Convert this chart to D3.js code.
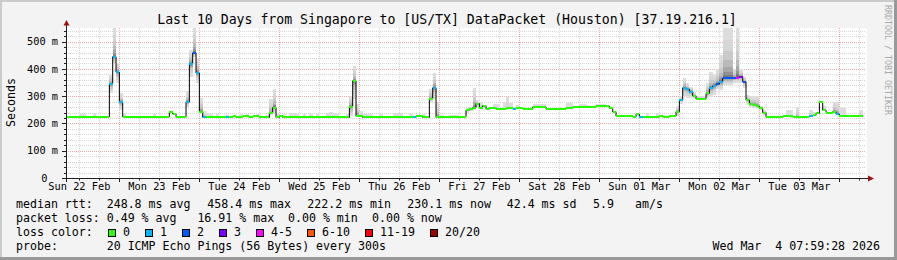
<!DOCTYPE html>
<html>
<head>
<meta charset="utf-8">
<script src="https://cdn.jsdelivr.net/npm/d3@7"></script>
<style>
  body { margin: 0; background: #f3f3f3; }
  svg { display: block; }
  text { font-family: "DejaVu Sans Mono", monospace; white-space: pre; }
</style>
</head>
<body>
<svg id="chart" width="897" height="260"></svg>
<script>
const title = "Last 10 Days from Singapore to [US/TX] DataPacket (Houston) [37.19.216.1]";
const endTime = new Date(2026, 2, 4, 7, 59, 28);
const firstBinStart = new Date(2026, 1, 22, 8, 0, 0); // hourly bins

// median rtt per hour (ms), one row per day
const median = [
  225,225,225,225,225,225,225,225,225,225,225,225,225,344,445,388,277,225,225,225,225,225,225,225,
  225,225,225,225,225,225,225,241,235,225,225,225,278,417,459,385,243,223,222,222,222,222,222,222,
  222,222,226,222,222,226,226,222,226,226,222,222,222,237,258,222,226,222,222,222,222,222,222,222,
  222,222,222,222,222,222,222,222,222,222,222,222,222,261,356,227,227,222,222,222,222,222,222,222,
  222,222,222,222,222,222,222,222,222,226,226,222,222,290,331,222,222,222,222,222,222,222,225,225,
  249,252,258,273,258,265,253,258,258,253,253,253,256,258,253,258,258,253,253,253,260,260,260,260,
  254,254,254,254,254,254,258,258,260,260,260,260,260,260,260,263,263,263,263,258,243,227,227,227,
  227,227,224,233,224,224,224,224,224,224,227,224,224,227,227,243,286,331,326,317,301,291,291,291,
  310,329,338,344,353,366,366,366,366,368,371,353,286,270,268,264,255,240,225,225,222,222,222,227,
  227,227,225,222,222,222,225,227,230,237,277,249,240,238,243,235,227,227,227,227,227,227,227
];

// [hour bin, lost pings out of 20]
const loss = [
  [13,1],[14,1],[15,1],[16,1],[36,1],[37,1],[38,2],[39,1],[41,1],[48,1],[104,1],[110,1],
  [134,1],[172,1],[184,1],[185,1],[186,1],[187,1],[193,1],[194,1],[195,2],[196,1],
  [197,2],[198,2],[199,2],[200,2],[201,4],[202,3],[203,2],[223,1],[231,1]
];

// smoke: [hour bin, lowest ping ms, highest ping ms, darkness of core 0..1]
const smoke = [
  [4,224,236,0],[5,224,240,0],[8,224,240,0],[13,311,378,1],[14,420,560,1],[15,350,422,1],
  [16,250,312,1],[17,222,236,0.2],[26,224,235,0],[36,262,318,1],[37,372,470,1],[38,445,560,1],
  [39,350,435,1],[40,240,295,1],[41,220,245,0.5],[42,222,238,0],[43,222,236,0],[45,222,236,0],
  [48,222,232,0],[52,222,236,0],[54,222,236,0],[57,222,236,0],[60,224,232,0.3],[61,230,290,0.8],
  [62,240,326,1],[63,222,240,0.3],[65,222,236,0],[67,222,240,0],[68,222,240,0],[69,222,236,0],
  [71,222,236,0],[73,222,236,0],[75,222,236,0],[78,222,240,0],[79,222,243,0],[80,222,240,0],
  [81,222,236,0],[84,222,236,0],[85,226,300,1],[86,290,411,1],[87,224,272,1],[88,222,245,0.3],
  [89,222,236,0],[90,222,236,0],[91,222,236,0],[94,222,236,0],[98,222,240,0],[99,222,240,0],
  [100,222,238,0],[103,222,236,0],[107,222,236,0],[109,280,325,1],[110,290,386,1],[111,222,280,0.8],
  [112,222,232,0],[115,222,232,0],[116,222,232,0],[117,222,232,0],[120,240,255,0.6],[121,245,262,0.6],
  [122,250,330,1],[123,262,285,0.5],[124,255,280,0.3],[128,256,270,0],[129,252,270,0],[131,252,280,0],
  [132,254,298,0.2],[133,256,275,0],[135,256,268,0],[140,258,272,0],[141,258,272,0],[142,258,270,0],
  [143,258,272,0],[150,256,275,0],[151,256,275,0],[154,258,270,0],[155,258,270,0],[156,258,268,0],
  [159,260,270,0],[160,260,270,0],[161,260,272,0],[171,226,240,0],[174,224,238,0],[177,224,238,0],
  [183,228,265,0.8],[184,270,300,0.4],[185,300,366,1],[186,292,350,1],[187,295,335,1],[188,290,315,0.8],
  [189,285,300,0.5],[190,285,300,0.5],[191,285,300,0.5],[192,292,350,1],[193,298,390,1],[194,305,382,1],
  [195,325,400,1],[196,322,451,1],[197,340,560,1],[198,340,560,1],[199,340,560,1],[200,350,400,1],
  [201,350,560,1],[202,350,400,1],[203,330,370,1],[204,270,305,1],[205,260,300,1],[206,258,300,1],
  [207,255,300,1],[208,248,265,0.5],[209,232,250,0.5],[216,222,250,0],[217,222,250,0],[219,222,260,0.6],
  [223,224,250,0.3],[224,226,242,0],[227,245,265,0.3],[230,235,280,0.8],[231,232,280,0.8],
  [232,225,260,0],[233,225,255,0],[238,225,250,0.2]
];

const yTickValues = [0, 100, 200, 300, 400, 500];
const yTickLabels = ["0", "100 m", "200 m", "300 m", "400 m", "500 m"];
const dayLabels = ["Sun 22 Feb", "Mon 23 Feb", "Tue 24 Feb", "Wed 25 Feb", "Thu 26 Feb",
                   "Fri 27 Feb", "Sat 28 Feb", "Sun 01 Mar", "Mon 02 Mar", "Tue 03 Mar"];

const lossLevels = ["0", "1", "2", "3", "4-5", "6-10", "11-19", "20/20"];
const lossColors = ["#26ff00", "#00b8ff", "#0059ff", "#7e00ff", "#ff00ff", "#ff5500", "#ff0000", "#a10000"];

const rttStats = ["248.8 ms avg", "458.4 ms max", "222.2 ms min", "230.1 ms now", "42.4 ms sd", "5.9", "am/s"];
const lossStats = ["0.49 % avg", "16.91 % max", "0.00 % min", "0.00 % now"];
const probeText = "20 ICMP Echo Pings (56 Bytes) every 300s";
const stampText = "Wed Mar  4 07:59:28 2026";

// ---------------------------------------------------------------
const W = 897, H = 260;
const plot = { left: 66, right: 866, top: 28, bottom: 178 };
const svg = d3.select("#chart");

svg.append("rect").attr("width", W).attr("height", H).attr("fill", "#f3f3f3");
svg.append("rect").attr("width", W).attr("height", 2).attr("fill", "#cbcbcb");
svg.append("rect").attr("width", 2).attr("height", H).attr("fill", "#cbcbcb");
svg.append("rect").attr("y", H - 3).attr("width", W).attr("height", 3).attr("fill", "#999");
svg.append("rect").attr("x", W - 3).attr("width", 3).attr("height", H).attr("fill", "#999");

svg.append("rect")
    .attr("x", plot.left).attr("y", plot.top)
    .attr("width", plot.right - plot.left + 1).attr("height", plot.bottom - plot.top)
    .attr("fill", "#fff");

const x = d3.scaleTime()
    .domain([d3.timeDay.offset(endTime, -10), endTime])
    .range([plot.left, plot.right]);

const y = d3.scaleLinear()
    .domain([0, 550])
    .range([plot.bottom, plot.top])
    .clamp(true);

const crisp = v => Math.round(v) + 0.5;

// grid
const grid = svg.append("g").attr("stroke-dasharray", "1,1").attr("stroke-width", 1);
const sixHours = d3.timeHour.every(6).range(x.domain()[0], x.domain()[1]);
const isMidnight = d => d.getHours() === 0;

grid.selectAll(".vmin")
    .data(sixHours.filter(d => !isMidnight(d)))
    .join("line")
    .attr("x1", d => crisp(x(d))).attr("x2", d => crisp(x(d)))
    .attr("y1", plot.top).attr("y2", plot.bottom)
    .attr("stroke", "#d6d6d6");

const minorY = d3.range(20, 551, 20).filter(v => v % 100 !== 0);
grid.selectAll(".hmin")
    .data(minorY)
    .join("line")
    .attr("x1", plot.left).attr("x2", plot.right)
    .attr("y1", d => crisp(y(d))).attr("y2", d => crisp(y(d)))
    .attr("stroke", "#d6d6d6");

grid.selectAll(".vmaj")
    .data(sixHours.filter(isMidnight))
    .join("line")
    .attr("x1", d => crisp(x(d))).attr("x2", d => crisp(x(d)))
    .attr("y1", plot.top).attr("y2", plot.bottom)
    .attr("stroke", "#f2a8a8");

grid.selectAll(".hmaj")
    .data(yTickValues.filter(v => v > 0))
    .join("line")
    .attr("x1", plot.left).attr("x2", plot.right)
    .attr("y1", d => crisp(y(d))).attr("y2", d => crisp(y(d)))
    .attr("stroke", "#f2a8a8");

// bins
const binStart = i => d3.timeHour.offset(firstBinStart, i);
const binEnd = i => d3.timeHour.offset(firstBinStart, i + 1);

// smoke: nested bands, wide light outliers, darker core hugging the median
const smokeG = svg.append("g").attr("shape-rendering", "crispEdges");
smoke.forEach(([bin, lo, hi, shade]) => {
    const med = median[bin];
    for (let k = 0; k < 10; k++) {
        const f = Math.pow(1 - k / 10, 3);
        const top = med + (hi - med) * f;
        const bot = med - (med - lo) * f;
        const g = Math.round(221 - 180 * shade * Math.pow(k / 9, 1.5));
        smokeG.append("rect")
            .attr("x", x(binStart(bin)))
            .attr("width", x(binEnd(bin)) - x(binStart(bin)))
            .attr("y", y(top))
            .attr("height", Math.max(0, y(bot) - y(top)))
            .attr("fill", d3.rgb(g, g, g));
    }
});

// median step line
const pts = median.map((m, i) => [x(binStart(i)), y(m)]);
pts.push([x(binEnd(median.length - 1)), y(median[median.length - 1])]);
svg.append("path")
    .attr("d", d3.line().curve(d3.curveStepAfter)(pts))
    .attr("fill", "none")
    .attr("stroke", "#000")
    .attr("stroke-width", 1);

// median markers coloured by loss
const lossMap = new Map(loss);
const lossIndex = n => n <= 3 ? n : n <= 5 ? 4 : n <= 10 ? 5 : n <= 19 ? 6 : 7;
svg.append("g").attr("shape-rendering", "crispEdges")
    .selectAll("rect")
    .data(median)
    .join("rect")
    .attr("x", (d, i) => x(binStart(i)))
    .attr("width", (d, i) => x(binEnd(i)) - x(binStart(i)))
    .attr("y", d => y(d) - 1)
    .attr("height", 2)
    .attr("fill", (d, i) => lossColors[lossIndex(lossMap.get(i) || 0)]);

// axes
const axisG = svg.append("g").attr("stroke", "#202020").attr("stroke-width", 1);
axisG.append("line").attr("x1", 62).attr("x2", 869).attr("y1", 178.5).attr("y2", 178.5);
axisG.append("line").attr("x1", 66.5).attr("x2", 66.5).attr("y1", 182).attr("y2", 24);

axisG.selectAll(".ytick")
    .data(d3.range(0, 551, 20))
    .join("line")
    .attr("x1", d => d % 100 === 0 ? 62 : 64).attr("x2", 66.5)
    .attr("y1", d => crisp(y(d))).attr("y2", d => crisp(y(d)));

axisG.selectAll(".xtick")
    .data(sixHours)
    .join("line")
    .attr("x1", d => crisp(x(d))).attr("x2", d => crisp(x(d)))
    .attr("y1", 178.5).attr("y2", d => isMidnight(d) ? 182 : 180.5);

svg.append("path").attr("d", "M868,175.5L874,178.5L868,181.5Z").attr("fill", "#a01010");
svg.append("path").attr("d", "M63.5,25.5L66.5,20L69.5,25.5Z").attr("fill", "#a01010");

// tick labels
svg.append("g")
    .selectAll("text")
    .data(yTickValues)
    .join("text")
    .attr("x", (d, i) => yTickLabels[i].includes(" ") ? 58 : 47.5)
    .attr("y", d => y(d) + 3.7)
    .attr("text-anchor", "end")
    .attr("font-size", "10.3px")
    .attr("fill", "#000")
    .text((d, i) => yTickLabels[i]);

const firstMidnight = d3.timeDay.floor(x.domain()[0]);
svg.append("g")
    .selectAll("text")
    .data(dayLabels)
    .join("text")
    .attr("x", (d, i) => x(d3.timeHour.offset(firstMidnight, 12 + 24 * i)))
    .attr("y", 190)
    .attr("text-anchor", "middle")
    .attr("font-size", "10.3px")
    .attr("fill", "#000")
    .text(d => d);

// title and side texts
svg.append("text")
    .attr("x", 447).attr("y", 24)
    .attr("text-anchor", "middle")
    .attr("font-size", "13.2px")
    .text(title);

svg.append("text")
    .attr("transform", "translate(15,102.5) rotate(-90)")
    .attr("text-anchor", "middle")
    .attr("font-size", "11.6px")
    .text("Seconds");

svg.append("text")
    .attr("transform", "translate(884.5,5) rotate(90)")
    .attr("font-size", "8.3px")
    .attr("fill", "#a8a8a8")
    .text("RRDTOOL / TOBI OETIKER");

// legend
const legend = svg.append("g").attr("font-size", "11.6px").attr("fill", "#000");
const rowY = [208, 222, 236, 250];
const colX = 106.7;

legend.append("text").attr("x", 16).attr("y", rowY[0]).text("median rtt:");
const rttX = [106.7, 207.3, 307.3, 407.3, 506.7, 593, 635];
rttStats.forEach((s, i) => legend.append("text").attr("x", rttX[i]).attr("y", rowY[0]).text(s));

legend.append("text").attr("x", 16).attr("y", rowY[1]).text("packet loss:");
const lossX = [106.7, 197.4, 288, 372];
lossStats.forEach((s, i) => legend.append("text").attr("x", lossX[i]).attr("y", rowY[1]).text(s));

legend.append("text").attr("x", 16).attr("y", rowY[2]).text("loss color:");
let bx = 108;
lossLevels.forEach((lab, i) => {
    legend.append("rect")
        .attr("x", bx + 0.5).attr("y", 229.5)
        .attr("width", 7).attr("height", 7)
        .attr("fill", lossColors[i])
        .attr("stroke", "#000").attr("stroke-width", 1);
    legend.append("text").attr("x", bx + 15).attr("y", rowY[2]).text(lab);
    bx = bx + 15 + lab.length * 7 + 15;
});

legend.append("text").attr("x", 16).attr("y", rowY[3]).text("probe:");
legend.append("text").attr("x", colX).attr("y", rowY[3]).text(probeText);
legend.append("text").attr("x", 880).attr("y", rowY[3]).attr("text-anchor", "end").text(stampText);
</script>
</body>
</html>
